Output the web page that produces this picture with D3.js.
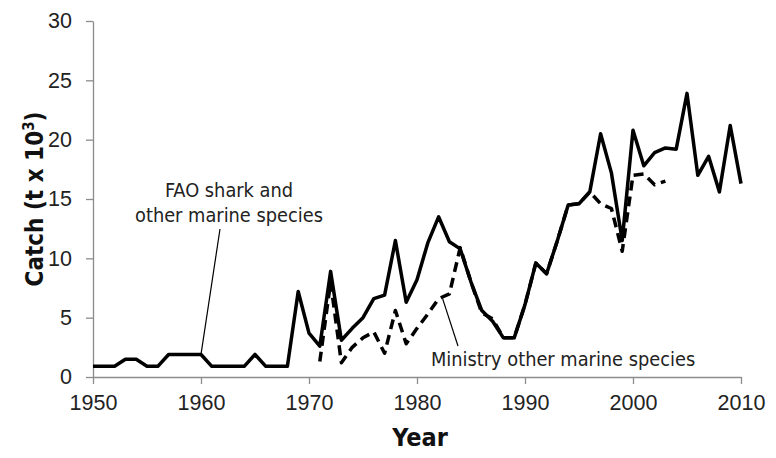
<!DOCTYPE html>
<html>
<head>
<meta charset="utf-8">
<script src="https://cdn.jsdelivr.net/npm/d3@7"></script>
<style>
  html, body { margin: 0; padding: 0; background: #fff; }
  svg { display: block; font-family: "DejaVu Sans Condensed", "DejaVu Sans", sans-serif; }
  .tick text { font-size: 21.5px; fill: #222; }
  .axis path, .axis line { stroke: #8c8c8c; stroke-width: 1.3; }
  .axis-title { font-weight: bold; fill: #111; }
  .note { font-size: 19.8px; fill: #222; }
</style>
</head>
<body>
<svg id="chart" width="776" height="458"></svg>
<script>
/* Catch series, t x 10^3 */
const years = d3.range(1950, 2011);
const faoCatch = [
  0.9, 0.9, 0.9, 1.5, 1.5, 0.9, 0.9, 1.9, 1.9, 1.9,   // 1950-59
  1.9, 0.9, 0.9, 0.9, 0.9, 1.9, 0.9, 0.9, 0.9, 7.2,   // 1960-69
  3.7, 2.6, 8.9, 3.1, 4.1, 5.0, 6.6, 6.9, 11.5, 6.3,  // 1970-79
  8.2, 11.3, 13.5, 11.4, 10.8, 8.0, 5.6, 4.7, 3.3, 3.3, // 1980-89
  6.1, 9.6, 8.7, 11.5, 14.5, 14.6, 15.6, 20.5, 17.2, 11.5, // 1990-99
  20.8, 17.8, 18.9, 19.3, 19.2, 23.9, 17.0, 18.6, 15.6, 21.2, // 2000-09
  16.3                                                 // 2010
];
const ministryYears = d3.range(1971, 2004);
const ministryCatch = [
  1.3, 8.0, 1.2, 2.5, 3.3, 3.8, 2.0, 5.6, 2.8,        // 1971-79
  4.1, 5.3, 6.6, 7.0, 10.9, 8.0, 5.4, 4.9, 3.3, 3.3,  // 1980-89
  6.1, 9.6, 8.7, 11.5, 14.5, 14.6, 15.6, 14.6, 14.2, 10.6, // 1990-99
  17.0, 17.1, 16.2, 16.5                               // 2000-03
];
const xTicks = [1950, 1960, 1970, 1980, 1990, 2000, 2010];
const yTicks = [0, 5, 10, 15, 20, 25, 30];

const svg = d3.select("#chart");
const M = { t: 21, r: 35, b: 81, l: 93 };
const W = 776, H = 458;
const iw = W - M.l - M.r, ih = H - M.t - M.b;
const g = svg.append("g").attr("transform", `translate(${M.l},${M.t})`);

const x = d3.scaleLinear().domain([1950, 2010]).range([0, iw]);
const y = d3.scaleLinear().domain([0, 30]).range([ih, 0]);

// axes
g.append("g").attr("class", "axis").attr("transform", `translate(0,${ih})`)
  .call(d3.axisBottom(x).tickValues(xTicks).tickFormat(d3.format("d")).tickSize(7).tickPadding(8).tickSizeOuter(0))
  .call(a => a.selectAll("text").attr("dy", "0.85em"));
g.append("g").attr("class", "axis")
  .call(d3.axisLeft(y).tickValues(yTicks).tickSize(7).tickPadding(14).tickSizeOuter(0));

// series
const line = d3.line().x(d => x(d[0])).y(d => y(d[1])).curve(d3.curveLinear);
const faoPts = years.map((yr, i) => [yr, faoCatch[i]]);
const minPts = ministryYears.map((yr, i) => [yr, ministryCatch[i]]);

g.append("path").datum(minPts).attr("d", line)
  .attr("fill", "none").attr("stroke", "#000").attr("stroke-width", 3.5)
  .attr("stroke-dasharray", "10,6").attr("stroke-linejoin", "round");
g.append("path").datum(faoPts).attr("d", line)
  .attr("fill", "none").attr("stroke", "#000").attr("stroke-width", 3.5)
  .attr("stroke-linejoin", "round");

// annotations
const fao1960 = faoPts[years.indexOf(1960)];
g.append("line").attr("stroke", "#000").attr("stroke-width", 1.2)
  .attr("x1", 220 - M.l).attr("y1", 229 - M.t)
  .attr("x2", x(fao1960[0])).attr("y2", y(fao1960[1]));
const faoLbl = g.append("text").attr("class", "note").attr("text-anchor", "middle");
faoLbl.append("tspan").attr("x", 229 - M.l).attr("y", 197 - M.t).text("FAO shark and");
faoLbl.append("tspan").attr("x", 229 - M.l).attr("y", 222 - M.t).text("other marine species");

const min1982 = minPts[ministryYears.indexOf(1982)];
g.append("line").attr("stroke", "#000").attr("stroke-width", 1.2)
  .attr("x1", x(min1982[0]) + 4).attr("y1", y(min1982[1]))
  .attr("x2", 458 - M.l).attr("y2", 346 - M.t);
g.append("text").attr("class", "note").attr("x", 431 - M.l).attr("y", 366 - M.t)
  .text("Ministry other marine species");

// axis titles
svg.append("text").attr("class", "axis-title").attr("text-anchor", "middle")
  .attr("font-size", "25px").attr("x", 420).attr("y", 446).text("Year");
const yt = svg.append("text").attr("class", "axis-title").attr("text-anchor", "middle")
  .attr("font-size", "24px").attr("transform", "translate(43,199) rotate(-90)");
yt.append("tspan").text("Catch (t x 10");
yt.append("tspan").attr("font-size", "15px").attr("dy", "-9").text("3");
yt.append("tspan").attr("dy", "9").text(")");
</script>
</body>
</html>
